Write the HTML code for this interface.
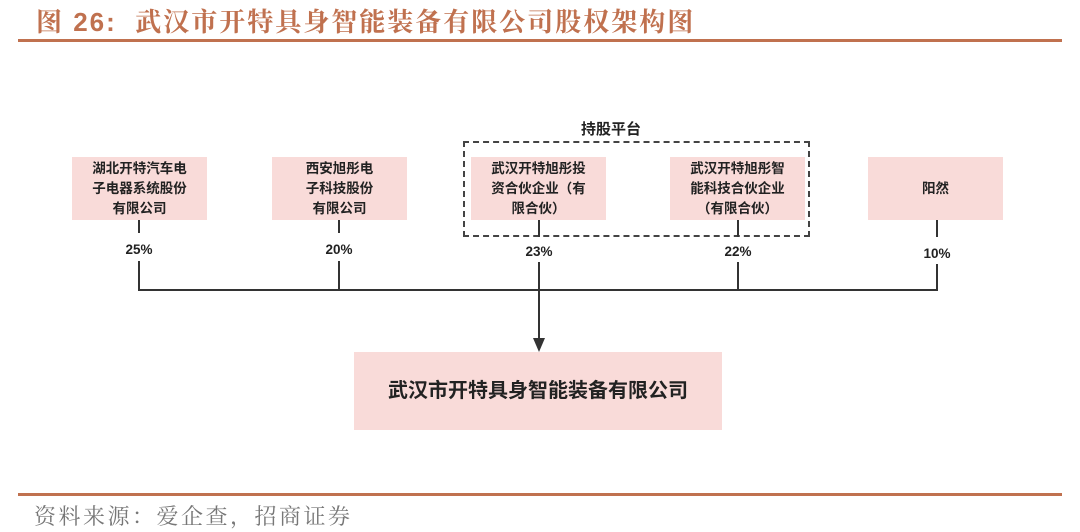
<!DOCTYPE html>
<html><head><meta charset="utf-8"><style>
body{margin:0;width:1080px;height:532px;background:#fff;position:relative;overflow:hidden;font-family:"Liberation Sans","Noto Sans CJK SC",sans-serif}
.a{position:absolute}
.t{left:36px;top:2px;font-size:26px;font-weight:bold;color:#c0714f;font-family:"Liberation Sans","Noto Serif CJK SC",serif;letter-spacing:2px;white-space:nowrap}
.hl{left:18px;width:1044px;height:3px;background:#c0714f}
.box{position:absolute;background:#f9dbd9;display:flex;align-items:center;justify-content:center;text-align:center;font-weight:bold;font-size:13.5px;line-height:20px;color:#222}
.v{position:absolute;width:2px;background:#333}
.p{position:absolute;font-size:13.5px;font-weight:bold;color:#222;width:60px;text-align:center}
</style></head><body>
<div class="a t">图 26:&nbsp; 武汉市开特具身智能装备有限公司股权架构图</div>
<div class="a hl" style="top:39px"></div>

<div class="a" style="left:581px;top:118px;font-size:15px;font-weight:bold;color:#222">持股平台</div>
<div class="a" style="left:463px;top:141px;width:343px;height:92px;border:2px dashed #444"></div>

<div class="box" style="left:72px;top:157px;width:135px;height:63px">湖北开特汽车电<br>子电器系统股份<br>有限公司</div>
<div class="box" style="left:272px;top:157px;width:135px;height:63px">西安旭彤电<br>子科技股份<br>有限公司</div>
<div class="box" style="left:471px;top:157px;width:135px;height:63px">武汉开特旭彤投<br>资合伙企业（有<br>限合伙）</div>
<div class="box" style="left:670px;top:157px;width:135px;height:63px">武汉开特旭彤智<br>能科技合伙企业<br>（有限合伙）</div>
<div class="box" style="left:868px;top:157px;width:135px;height:63px">阳然</div>

<div class="v" style="left:138px;top:220px;height:13px"></div>
<div class="v" style="left:338px;top:220px;height:13px"></div>
<div class="v" style="left:538px;top:220px;height:17px"></div>
<div class="v" style="left:737px;top:220px;height:17px"></div>
<div class="v" style="left:936px;top:220px;height:17px"></div>

<div class="p" style="left:109px;top:242px">25%</div>
<div class="p" style="left:309px;top:242px">20%</div>
<div class="p" style="left:509px;top:244px">23%</div>
<div class="p" style="left:708px;top:244px">22%</div>
<div class="p" style="left:907px;top:246px">10%</div>

<div class="v" style="left:138px;top:261px;height:30px"></div>
<div class="v" style="left:338px;top:261px;height:30px"></div>
<div class="v" style="left:538px;top:262px;height:78px"></div>
<div class="v" style="left:737px;top:262px;height:29px"></div>
<div class="v" style="left:936px;top:264px;height:27px"></div>
<div class="a" style="left:138px;top:289px;width:800px;height:2px;background:#333"></div>
<div class="a" style="left:533px;top:338px;width:0;height:0;border-left:6px solid transparent;border-right:6px solid transparent;border-top:14px solid #333"></div>

<div class="box" style="left:354px;top:352px;width:368px;height:78px;font-size:20px">武汉市开特具身智能装备有限公司</div>

<div class="a hl" style="top:493px"></div>
<div class="a" style="left:34px;top:500px;font-size:22px;letter-spacing:2.5px;color:#777;font-family:'Noto Serif CJK SC',serif;white-space:nowrap">资料来源：爱企查，招商证券</div>
</body></html>
